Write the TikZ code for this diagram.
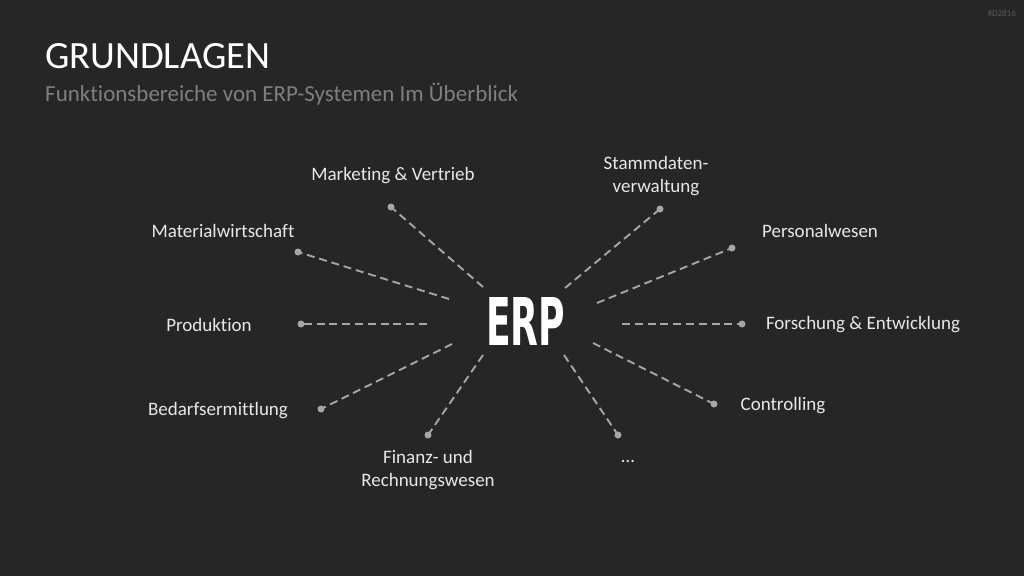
\documentclass[tikz,border=0pt]{standalone}
\usepackage{fontspec}
\setmainfont[Ligatures=NoCommon]{Carlito}
\newfontfamily\erpfont{DejaVu Sans Condensed}
\definecolor{bg}{HTML}{262626}
\definecolor{linegray}{HTML}{A6A6A6}
\definecolor{subgray}{HTML}{7F7F7F}
\definecolor{labelcol}{HTML}{E8E8E8}
\definecolor{taggray}{HTML}{595959}
\tikzset{
  lbl/.style={text=labelcol, font=\fontsize{19}{23}\selectfont, align=center, inner sep=0pt},
  conn/.style={draw=linegray, line width=1.9pt, dash pattern=on 8pt off 4.8pt},
  enddot/.style={circle, fill=linegray, minimum size=7pt, inner sep=0pt},
}
\begin{document}
\begin{tikzpicture}[x=1pt,y=-1pt]
\fill[bg] (0,0) rectangle (1024,576);
\useasboundingbox (0,0) rectangle (1024,576);
% header
\node[anchor=base west, inner sep=0pt, text=white, font=\fontsize{38.6}{44}\selectfont] (title) at (45,68) {GRUNDLAGEN};
\node[anchor=base west, inner sep=0pt, text=subgray, font=\fontsize{23}{27}\selectfont] (subtitle) at (45,101) {Funktionsbereiche von ERP-Systemen Im Überblick};
\node[anchor=base east, inner sep=0pt, text=taggray, font=\fontsize{9}{10}\selectfont] (tag) at (1016,16) {\#D2816};
% centre
\node[inner sep=0pt, text=white] (erp) at (525.5,321) {\resizebox{79pt}{48pt}{\erpfont\bfseries ERP}};
% inner ends
\coordinate (i1) at (483,287);
\coordinate (i2) at (565,288);
\coordinate (i3) at (449,299);
\coordinate (i4) at (597,303);
\coordinate (i5) at (427,324);
\coordinate (i6) at (622,324);
\coordinate (i7) at (452,344);
\coordinate (i8) at (593,343);
\coordinate (i9) at (483,355);
\coordinate (i10) at (564,355);
% dots
\node[enddot] (d1) at (391,207) {};
\node[enddot] (d2) at (660,209) {};
\node[enddot] (d3) at (298,252) {};
\node[enddot] (d4) at (732,248) {};
\node[enddot] (d5) at (301,324) {};
\node[enddot] (d6) at (742,324) {};
\node[enddot] (d7) at (321,409) {};
\node[enddot] (d8) at (714,404) {};
\node[enddot] (d9) at (428,435) {};
\node[enddot] (d10) at (618,435) {};
\foreach \k in {1,...,10} {\draw[conn] (i\k) -- (d\k.center);}
% labels
\node[lbl] (l1) at (393,175.5) {Marketing \& Vertrieb};
\node[lbl] (l2) at (656,176.5) {Stammdaten-\\verwaltung};
\node[lbl] (l3) at (223,230.5) {Materialwirtschaft};
\node[lbl] (l4) at (820,230.5) {Personalwesen};
\node[lbl] (l5) at (209,324.5) {Produktion};
\node[lbl] (l6) at (863,324.5) {Forschung \& Entwicklung};
\node[lbl] (l7) at (218,410.5) {Bedarfsermittlung};
\node[lbl] (l8) at (783,405.5) {Controlling};
\node[lbl] (l9) at (428,470.5) {Finanz- und\\Rechnungswesen};
\node[lbl] (l10) at (628,461) {\dots};
\end{tikzpicture}
\end{document}
